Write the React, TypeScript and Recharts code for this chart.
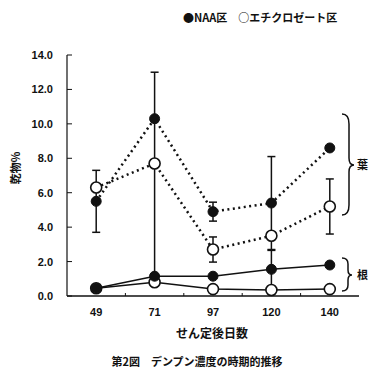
import { ComposedChart, Line, XAxis, YAxis, ErrorBar } from 'recharts'

const days = ['49', '71', '97', '120', '140']
const leafNAA = [5.5, 10.3, 4.9, 5.4, 8.6]
const leafNAAErr: [number, number][] = [[1.8, 1.8], [9.1, 2.7], [0.55, 0.55], [2.7, 2.7], [0, 0]]
const leafEth = [6.3, 7.7, 2.7, 3.5, 5.2]
const leafEthErr: [number, number][] = [[0, 0], [0, 0], [0.73, 0.73], [0, 0], [1.6, 1.6]]
const rootNAA = [0.45, 1.15, 1.15, 1.55, 1.8]
const rootNAAErr: [number, number][] = [[0, 0], [0, 0], [0, 0], [1.1, 1.1], [0, 0]]
const rootEth = [0.45, 0.8, 0.4, 0.35, 0.4]
const yTicks = [0, 2, 4, 6, 8, 10, 12, 14]

const data = days.map((d, i) => ({
  day: d,
  leafNAA: leafNAA[i],
  leafNAAErr: leafNAAErr[i],
  leafEth: leafEth[i],
  leafEthErr: leafEthErr[i],
  rootNAA: rootNAA[i],
  rootNAAErr: rootNAAErr[i],
  rootEth: rootEth[i],
}))

const FONT = "'Liberation Sans', 'Noto Sans CJK JP', sans-serif"
const JP = "'Noto Sans CJK JP', sans-serif"

const XTick = (props: any) => {
  const { x, y, payload, index } = props
  return (
    <g>
      <text x={x} y={y + 20} textAnchor="middle" fontFamily={FONT} fontWeight="bold" fontSize={11} fill="#111">
        {payload.value}
      </text>
      {index < days.length - 1 && <line x1={x + 29.2} x2={x + 29.2} y1={y} y2={y - 3} stroke="#111" strokeWidth={1} />}
    </g>
  )
}

const YTick = (props: any) => {
  const { x, y, payload } = props
  return (
    <g>
      <text x={x - 14} y={y + 4} textAnchor="end" fontFamily={FONT} fontWeight="bold" fontSize={11} fill="#111">
        {payload.value.toFixed(1)}
      </text>
      <line x1={x} x2={x + 5} y1={y} y2={y} stroke="#111" strokeWidth={1} />
    </g>
  )
}

const filledDot = { r: 5, fill: '#111', stroke: '#111', strokeWidth: 1, strokeDasharray: 'none' }
const openDot = { r: 5.5, fill: '#fff', stroke: '#111', strokeWidth: 1.6, strokeDasharray: 'none' }

export default function App() {
  return (
    <div style={{ position: 'absolute', left: 0, top: 0, width: 369, height: 374, background: '#fff' }}>
      <div style={{ position: 'absolute', left: 183, top: 9, fontFamily: JP, fontWeight: 'bold', fontSize: 11, color: '#111', whiteSpace: 'nowrap' }}>
        ●NAA区　○エチクロゼート区
      </div>
      <ComposedChart width={369} height={374} data={data} margin={{ top: 55, right: 10, bottom: 48, left: 27 }}>
        <XAxis dataKey="day" scale="band" tick={<XTick />} tickLine={false} tickSize={0} tickMargin={0} height={30}
          axisLine={{ stroke: '#111', strokeWidth: 1.5 }} interval={0} />
        <YAxis domain={[0, 14]} ticks={yTicks} tick={<YTick />} tickLine={false} tickSize={0} tickMargin={0} width={40}
          axisLine={{ stroke: '#111', strokeWidth: 1.2 }} interval={0} />
        {/* error bars first so the markers sit on top of them */}
        <Line dataKey="rootNAA" stroke="none" dot={false} activeDot={false} legendType="none" isAnimationActive={false}>
          <ErrorBar dataKey="rootNAAErr" width={4} stroke="#111" strokeWidth={1.5} />
        </Line>
        <Line dataKey="leafEth" stroke="none" dot={false} activeDot={false} legendType="none" isAnimationActive={false}>
          <ErrorBar dataKey="leafEthErr" width={4} stroke="#111" strokeWidth={1.5} />
        </Line>
        <Line dataKey="leafNAA" stroke="none" dot={false} activeDot={false} legendType="none" isAnimationActive={false}>
          <ErrorBar dataKey="leafNAAErr" width={4} stroke="#111" strokeWidth={1.5} />
        </Line>
        <Line dataKey="rootEth" stroke="#111" strokeWidth={1.5} dot={openDot} isAnimationActive={false} />
        <Line dataKey="rootNAA" stroke="#111" strokeWidth={1.5} dot={filledDot} isAnimationActive={false} />
        <Line dataKey="leafEth" stroke="#111" strokeWidth={2.5} strokeDasharray="2 3.5" dot={openDot} isAnimationActive={false} />
        <Line dataKey="leafNAA" stroke="#111" strokeWidth={2.5} strokeDasharray="2 3.5" dot={filledDot} isAnimationActive={false} />
      </ComposedChart>
      <svg style={{ position: 'absolute', left: 0, top: 0 }} width={369} height={374}>
        <path d="M342,114 Q349,114 349,124 L349,158 Q349,165 354,165 Q349,165 349,172 L349,205 Q349,215 342,215" fill="none" stroke="#111" strokeWidth={1.5} />
        <path d="M342,258 Q348,258 348,264 L348,270 Q348,275 352,275 Q348,275 348,280 L348,285 Q348,291 342,291" fill="none" stroke="#111" strokeWidth={1.5} />
        <text x={357} y={169} fontFamily={JP} fontWeight="bold" fontSize={11} fill="#111">葉</text>
        <text x={357} y={279} fontFamily={JP} fontWeight="bold" fontSize={11} fill="#111">根</text>
        <text transform="translate(20,168) rotate(-90)" textAnchor="middle" fontFamily={JP} fontWeight="bold" fontSize={11} fill="#111">乾物%</text>
        <text x={212} y={338} textAnchor="middle" fontFamily={JP} fontWeight="bold" fontSize={12} fill="#111">せん定後日数</text>
        <text x={197} y={366} textAnchor="middle" fontFamily={JP} fontWeight="bold" fontSize={11} fill="#111">第2図　デンプン濃度の時期的推移</text>
      </svg>
    </div>
  )
}
